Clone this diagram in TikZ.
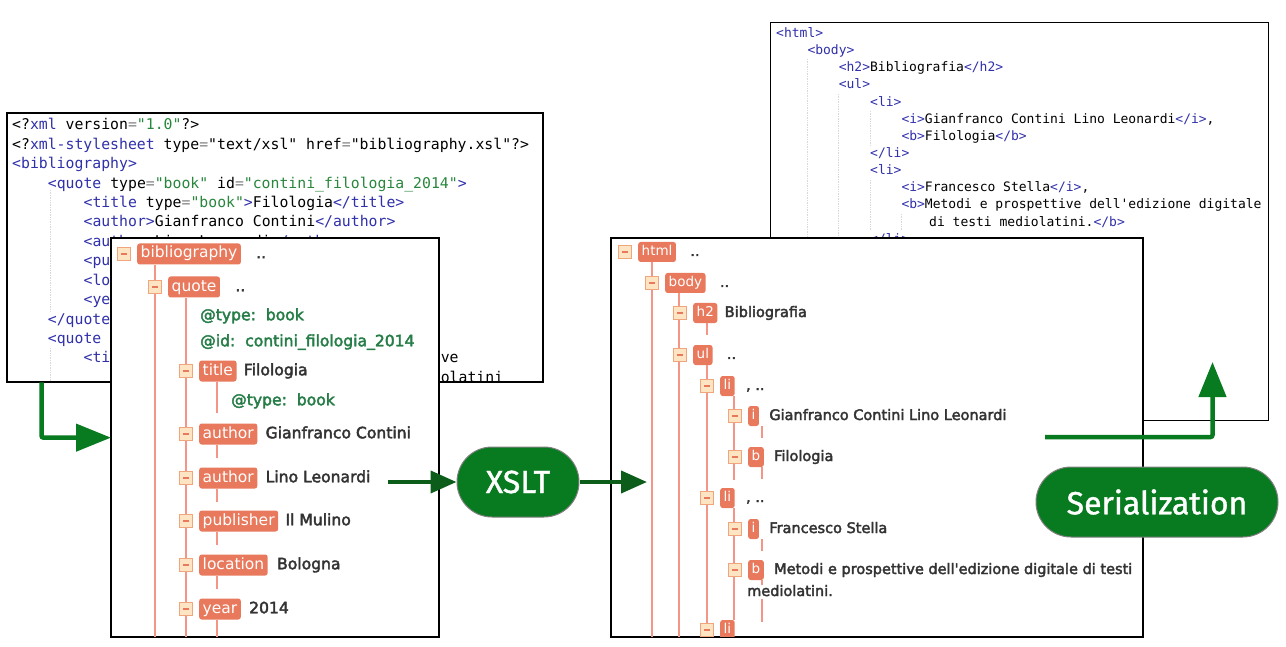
\documentclass[tikz,border=0pt]{standalone}
\usepackage{fontspec}
\usepackage{xcolor}
\usetikzlibrary{positioning,arrows.meta}
\setmonofont{DejaVu Sans Mono}
\newfontfamily\treefont{DejaVu Sans}
\newfontfamily\treebold{DejaVu Sans}[FakeBold=2.6]
\newfontfamily\pillfont{Fira Sans}[FakeBold=1.2]
\definecolor{xsltGreen}{RGB}{8,122,32}
\definecolor{xsltDark}{RGB}{12,92,26}
\definecolor{codeTag}{RGB}{48,48,170}
\definecolor{codeVal}{RGB}{40,135,60}
\definecolor{treeTag}{RGB}{232,121,92}
\definecolor{treeTogFill}{RGB}{253,229,196}
\definecolor{treeTogLine}{RGB}{240,165,125}
\definecolor{treeLine}{RGB}{243,150,135}
\definecolor{treeText}{RGB}{51,51,51}
\definecolor{treeAttr}{RGB}{38,125,72}
\newcommand{\ctag}[1]{\textcolor{codeTag}{#1}}
\newcommand{\cval}[1]{\textcolor{codeVal}{#1}}
\newcommand{\ceq}{\textcolor{gray}{=}}
\newcommand{\togmark}{\rule{6pt}{1.8pt}}

\begin{document}
\begin{tikzpicture}[x=1pt,y=-1pt]
\tikzstyle{panel} = [draw=black, fill=white, line width=1.3pt, anchor=north west, inner sep=0pt]
\tikzstyle{xmlcode} = [anchor=base west, inner sep=0pt, font=\ttfamily\fontsize{14.8}{17}\selectfont]
\tikzstyle{htmlcode} = [anchor=base west, inner sep=0pt, font=\ttfamily\fontsize{13}{15}\selectfont]
\tikzstyle{guide} = [draw=gray!30, densely dotted, line width=0.7pt]
\tikzstyle{tog} = [draw=treeTogLine, fill=treeTogFill, line width=0.8pt, minimum size=13pt, inner sep=0pt, text=treeTag]
\tikzstyle{ltag} = [anchor=west, fill=treeTag, text=white, rounded corners=2.5pt, inner xsep=3.5pt, inner ysep=0pt, text height=11.5pt, text depth=3.5pt, minimum height=21pt, font=\treefont\fontsize{15.5}{15}\selectfont]
\tikzstyle{rtag} = [ltag, text height=10.5pt, text depth=3pt, minimum height=20pt, font=\treefont\fontsize{13.5}{13}\selectfont]
\tikzstyle{lval} = [anchor=west, text=treeText, inner sep=0pt, text height=12pt, text depth=3.5pt, font=\treebold\fontsize{15.6}{16}\selectfont]
\tikzstyle{rval} = [lval, text height=11pt, text depth=3pt, font=\treebold\fontsize{14.5}{15}\selectfont]
\tikzstyle{lattr} = [lval, text=treeAttr]
\tikzstyle{tline} = [draw=treeLine, line width=1.2pt]
\tikzstyle{flow} = [draw=xsltGreen, line width=4.5pt, rounded corners=2pt, -{Triangle[length=35pt,width=27pt]}]
\tikzstyle{xflow} = [draw=xsltDark, line width=4pt, -{Triangle[length=26pt,width=22pt]}]
\tikzstyle{pill} = [fill=xsltGreen, draw=gray, line width=1pt, rounded corners=35pt, minimum height=70pt, text=white, font=\pillfont\fontsize{32}{32}\selectfont]

\useasboundingbox (0,0) rectangle (1286,647);

\node[panel, minimum width=535pt, minimum height=268pt] (xmlbox) at (7,113) {};
\begin{scope}
\clip (xmlbox.north west) rectangle (xmlbox.south east);
\draw[guide] (50,190) -- (50,312);
\draw[guide] (50,348) -- (50,381);
\node[xmlcode] (x1) at (12,130) {<?\ctag{xml} version\ceq\cval{"1.0"}?>};
\node[xmlcode] (x2) at (12,149.4) {<?\ctag{xml-stylesheet} type\ceq"text/xsl" href\ceq"bibliography.xsl"?>};
\node[xmlcode] (x3) at (12,168.8) {\ctag{<bibliography>}};
\node[xmlcode] (x4) at (47.7,188.2) {\ctag{<quote} type\ceq\cval{"book"} id\ceq\cval{"contini\_filologia\_2014"}\ctag{>}};
\node[xmlcode] (x5) at (83.4,207.6) {\ctag{<title} type\ceq\cval{"book"}\ctag{>}Filologia\ctag{</title>}};
\node[xmlcode] (x6) at (83.4,227) {\ctag{<author>}Gianfranco Contini\ctag{</author>}};
\node[xmlcode] (x7) at (83.4,246.4) {\ctag{<author>}Lino Leonardi\ctag{</author>}};
\node[xmlcode] (x8) at (83.4,265.8) {\ctag{<pu}};
\node[xmlcode] (x9) at (83.4,285.2) {\ctag{<lo}};
\node[xmlcode] (x10) at (83.4,304.6) {\ctag{<ye}};
\node[xmlcode] (x11) at (47.7,324) {\ctag{</quote>}};
\node[xmlcode] (x12) at (47.7,343.4) {\ctag{<quote}};
\node[xmlcode] (x13) at (83.4,362.8) {\ctag{<ti}};
\node[xmlcode] (x14) at (440.6,362.8) {ve};
\node[xmlcode] (x15) at (440.6,382.2) {olatini};
\end{scope}
\draw[line width=1.3pt] (xmlbox.north west) rectangle (xmlbox.south east);

\node[panel, minimum width=498pt, minimum height=398pt] (htmlbox) at (770,22) {};
\draw[guide] (807.5,59) -- (807.5,240);
\draw[guide] (838.7,94) -- (838.7,240);
\draw[guide] (870,111) -- (870,146);
\draw[guide] (870,180) -- (870,231);
\draw[guide] (901.3,214) -- (901.3,231);
\node[htmlcode] (h1) at (776,37.5) {\ctag{<html>}};
\node[htmlcode] (h2) at (807.3,54.65) {\ctag{<body>}};
\node[htmlcode] (h3) at (838.6,71.8) {\ctag{<h2>}Bibliografia\ctag{</h2>}};
\node[htmlcode] (h4) at (838.6,88.95) {\ctag{<ul>}};
\node[htmlcode] (h5) at (870,106.1) {\ctag{<li>}};
\node[htmlcode] (h6) at (901.3,123.25) {\ctag{<i>}Gianfranco Contini Lino Leonardi\ctag{</i>},};
\node[htmlcode] (h7) at (901.3,140.4) {\ctag{<b>}Filologia\ctag{</b>}};
\node[htmlcode] (h8) at (870,157.55) {\ctag{</li>}};
\node[htmlcode] (h9) at (870,174.7) {\ctag{<li>}};
\node[htmlcode] (h10) at (901.3,191.85) {\ctag{<i>}Francesco Stella\ctag{</i>},};
\node[htmlcode] (h11) at (901.3,209) {\ctag{<b>}Metodi e prospettive dell'edizione digitale};
\node[htmlcode] (h12) at (929,226.15) {di testi mediolatini.\ctag{</b>}};
\node[htmlcode] (h13) at (870,243.3) {\ctag{</li>}};

\node[panel, minimum width=327pt, minimum height=398pt] (ltree) at (111,238) {};
\begin{scope}
\clip (ltree.north west) rectangle (ltree.south east);
\node[ltag] (lt1) at (137,254) {bibliography};
\node[ltag] (lt2) at (168,287) {quote};
\node[ltag] (lt3) at (199,371) {title};
\node[ltag] (lt4) at (199,434) {author};
\node[ltag] (lt5) at (199,478) {author};
\node[ltag] (lt6) at (199,521) {publisher};
\node[ltag] (lt7) at (199,565) {location};
\node[ltag] (lt8) at (199,609) {year};
\node[lval, right=15pt of lt1] (lv1) {..};
\node[lval, right=15pt of lt2] (lv2) {..};
\node[lval, right=7pt of lt3] (lv3) {Filologia};
\node[lval, right=8pt of lt4] (lv4) {Gianfranco Contini};
\node[lval, right=8pt of lt5] (lv5) {Lino Leonardi};
\node[lval, right=7pt of lt6] (lv6) {Il Mulino};
\node[lval, right=9pt of lt7] (lv7) {Bologna};
\node[lval, right=8pt of lt8] (lv8) {2014};
\node[lattr] (la1) at (200,316) {@type:\ \ book};
\node[lattr] (la2) at (200,342) {@id:\ \ contini\_filologia\_2014};
\node[lattr] (la3) at (231,401) {@type:\ \ book};
\draw[tline] ([xshift=18pt]lt1.south west) -- ++(0,400);
\draw[tline] ([xshift=18pt]lt2.south west) -- ++(0,400);
\draw[tline] ([xshift=18pt]lt3.south west) -- ++(0,31);
\draw[tline] ([xshift=18pt]lt4.south west) -- ++(0,13);
\draw[tline] ([xshift=18pt]lt5.south west) -- ++(0,13);
\draw[tline] ([xshift=18pt]lt6.south west) -- ++(0,13);
\draw[tline] ([xshift=18pt]lt7.south west) -- ++(0,13);
\draw[tline] ([xshift=18pt]lt8.south west) -- ++(0,40);
\node[tog, left=6pt of lt1] (lg1) {\togmark};
\node[tog, left=6pt of lt2] (lg2) {\togmark};
\node[tog, left=6pt of lt3] (lg3) {\togmark};
\node[tog, left=6pt of lt4] (lg4) {\togmark};
\node[tog, left=6pt of lt5] (lg5) {\togmark};
\node[tog, left=6pt of lt6] (lg6) {\togmark};
\node[tog, left=6pt of lt7] (lg7) {\togmark};
\node[tog, left=6pt of lt8] (lg8) {\togmark};
\end{scope}
\draw[line width=1.3pt] (ltree.north west) rectangle (ltree.south east);

\node[panel, minimum width=531pt, minimum height=398pt] (rtree) at (611,238) {};
\begin{scope}
\clip (rtree.north west) rectangle (rtree.south east);
\node[rtag] (rt1) at (638,252) {html};
\node[rtag] (rt2) at (665,283) {body};
\node[rtag] (rt3) at (693,313) {h2};
\node[rtag] (rt4) at (693,355) {ul};
\node[rtag] (rt5) at (720,386) {li};
\node[rtag] (rt6) at (748,416) {i};
\node[rtag] (rt7) at (748,457) {b};
\node[rtag] (rt8) at (720,498) {li};
\node[rtag] (rt9) at (748,529) {i};
\node[rtag] (rt10) at (748,570) {b};
\node[rtag] (rt11) at (720,630) {li};
\draw[tline] ([xshift=14pt]rt1.south west) -- ++(0,400);
\draw[tline] ([xshift=14pt]rt2.south west) -- ++(0,400);
\draw[tline] ([xshift=14pt]rt3.south west) -- ++(0,12);
\draw[tline] ([xshift=14pt]rt4.south west) -- ++(0,400);
\draw[tline] ([xshift=14pt]rt5.south west) -- ++(0,84);
\draw[tline] ([xshift=14pt]rt6.south west) -- ++(0,12);
\draw[tline] ([xshift=14pt]rt7.south west) -- ++(0,12);
\draw[tline] ([xshift=14pt]rt8.south west) -- ++(0,112);
\draw[tline] ([xshift=14pt]rt9.south west) -- ++(0,12);
\draw[tline] ([xshift=14pt]rt10.south west) -- ++(0,42);
\draw[tline] ([xshift=14pt]rt11.south west) -- ++(0,40);
\node[rval, right=14pt of rt1] (rv1) {..};
\node[rval, right=14pt of rt2] (rv2) {..};
\node[rval, right=7pt of rt3] (rv3) {Bibliografia};
\node[rval, right=14pt of rt4] (rv4) {..};
\node[rval, right=11pt of rt5] (rv5) {, ..};
\node[rval, right=10pt of rt6] (rv6) {Gianfranco Contini Lino Leonardi};
\node[rval, right=10pt of rt7] (rv7) {Filologia};
\node[rval, right=11pt of rt8] (rv8) {, ..};
\node[rval, right=10pt of rt9] (rv9) {Francesco Stella};
\node[rval, right=10pt of rt10] (rv10) {Metodi e prospettive dell\textquotesingle edizione digitale di testi};
\node[rval, fill=white] (rv11) at (747,592) {mediolatini.};
\node[tog, left=6pt of rt1] (rg1) {\togmark};
\node[tog, left=6pt of rt2] (rg2) {\togmark};
\node[tog, left=6pt of rt3] (rg3) {\togmark};
\node[tog, left=6pt of rt4] (rg4) {\togmark};
\node[tog, left=6pt of rt5] (rg5) {\togmark};
\node[tog, left=6pt of rt6] (rg6) {\togmark};
\node[tog, left=6pt of rt7] (rg7) {\togmark};
\node[tog, left=6pt of rt8] (rg8) {\togmark};
\node[tog, left=6pt of rt9] (rg9) {\togmark};
\node[tog, left=6pt of rt10] (rg10) {\togmark};
\node[tog, left=6pt of rt11] (rg11) {\togmark};
\end{scope}
\draw[line width=1.3pt] (rtree.north west) rectangle (rtree.south east);

\coordinate (lstart) at ([xshift=34.5pt]xmlbox.south west);
\draw[flow] (lstart) |- (ltree.west);

\node[pill, minimum width=122pt] (xslt) at (518,482) {XSLT};
\coordinate (xin) at (388,482);
\coordinate (xout) at (647,482);
\draw[xflow] (xin) -- (xslt.west);
\draw[xflow] (xslt.east) -- (xout);

\coordinate (sstart) at (1045,437);
\coordinate (send) at (1212.5,362);
\draw[flow] (sstart) -| (send);
\node[pill, minimum width=242pt] (serial) at (1157,502) {Serialization};
\end{tikzpicture}
\end{document}
